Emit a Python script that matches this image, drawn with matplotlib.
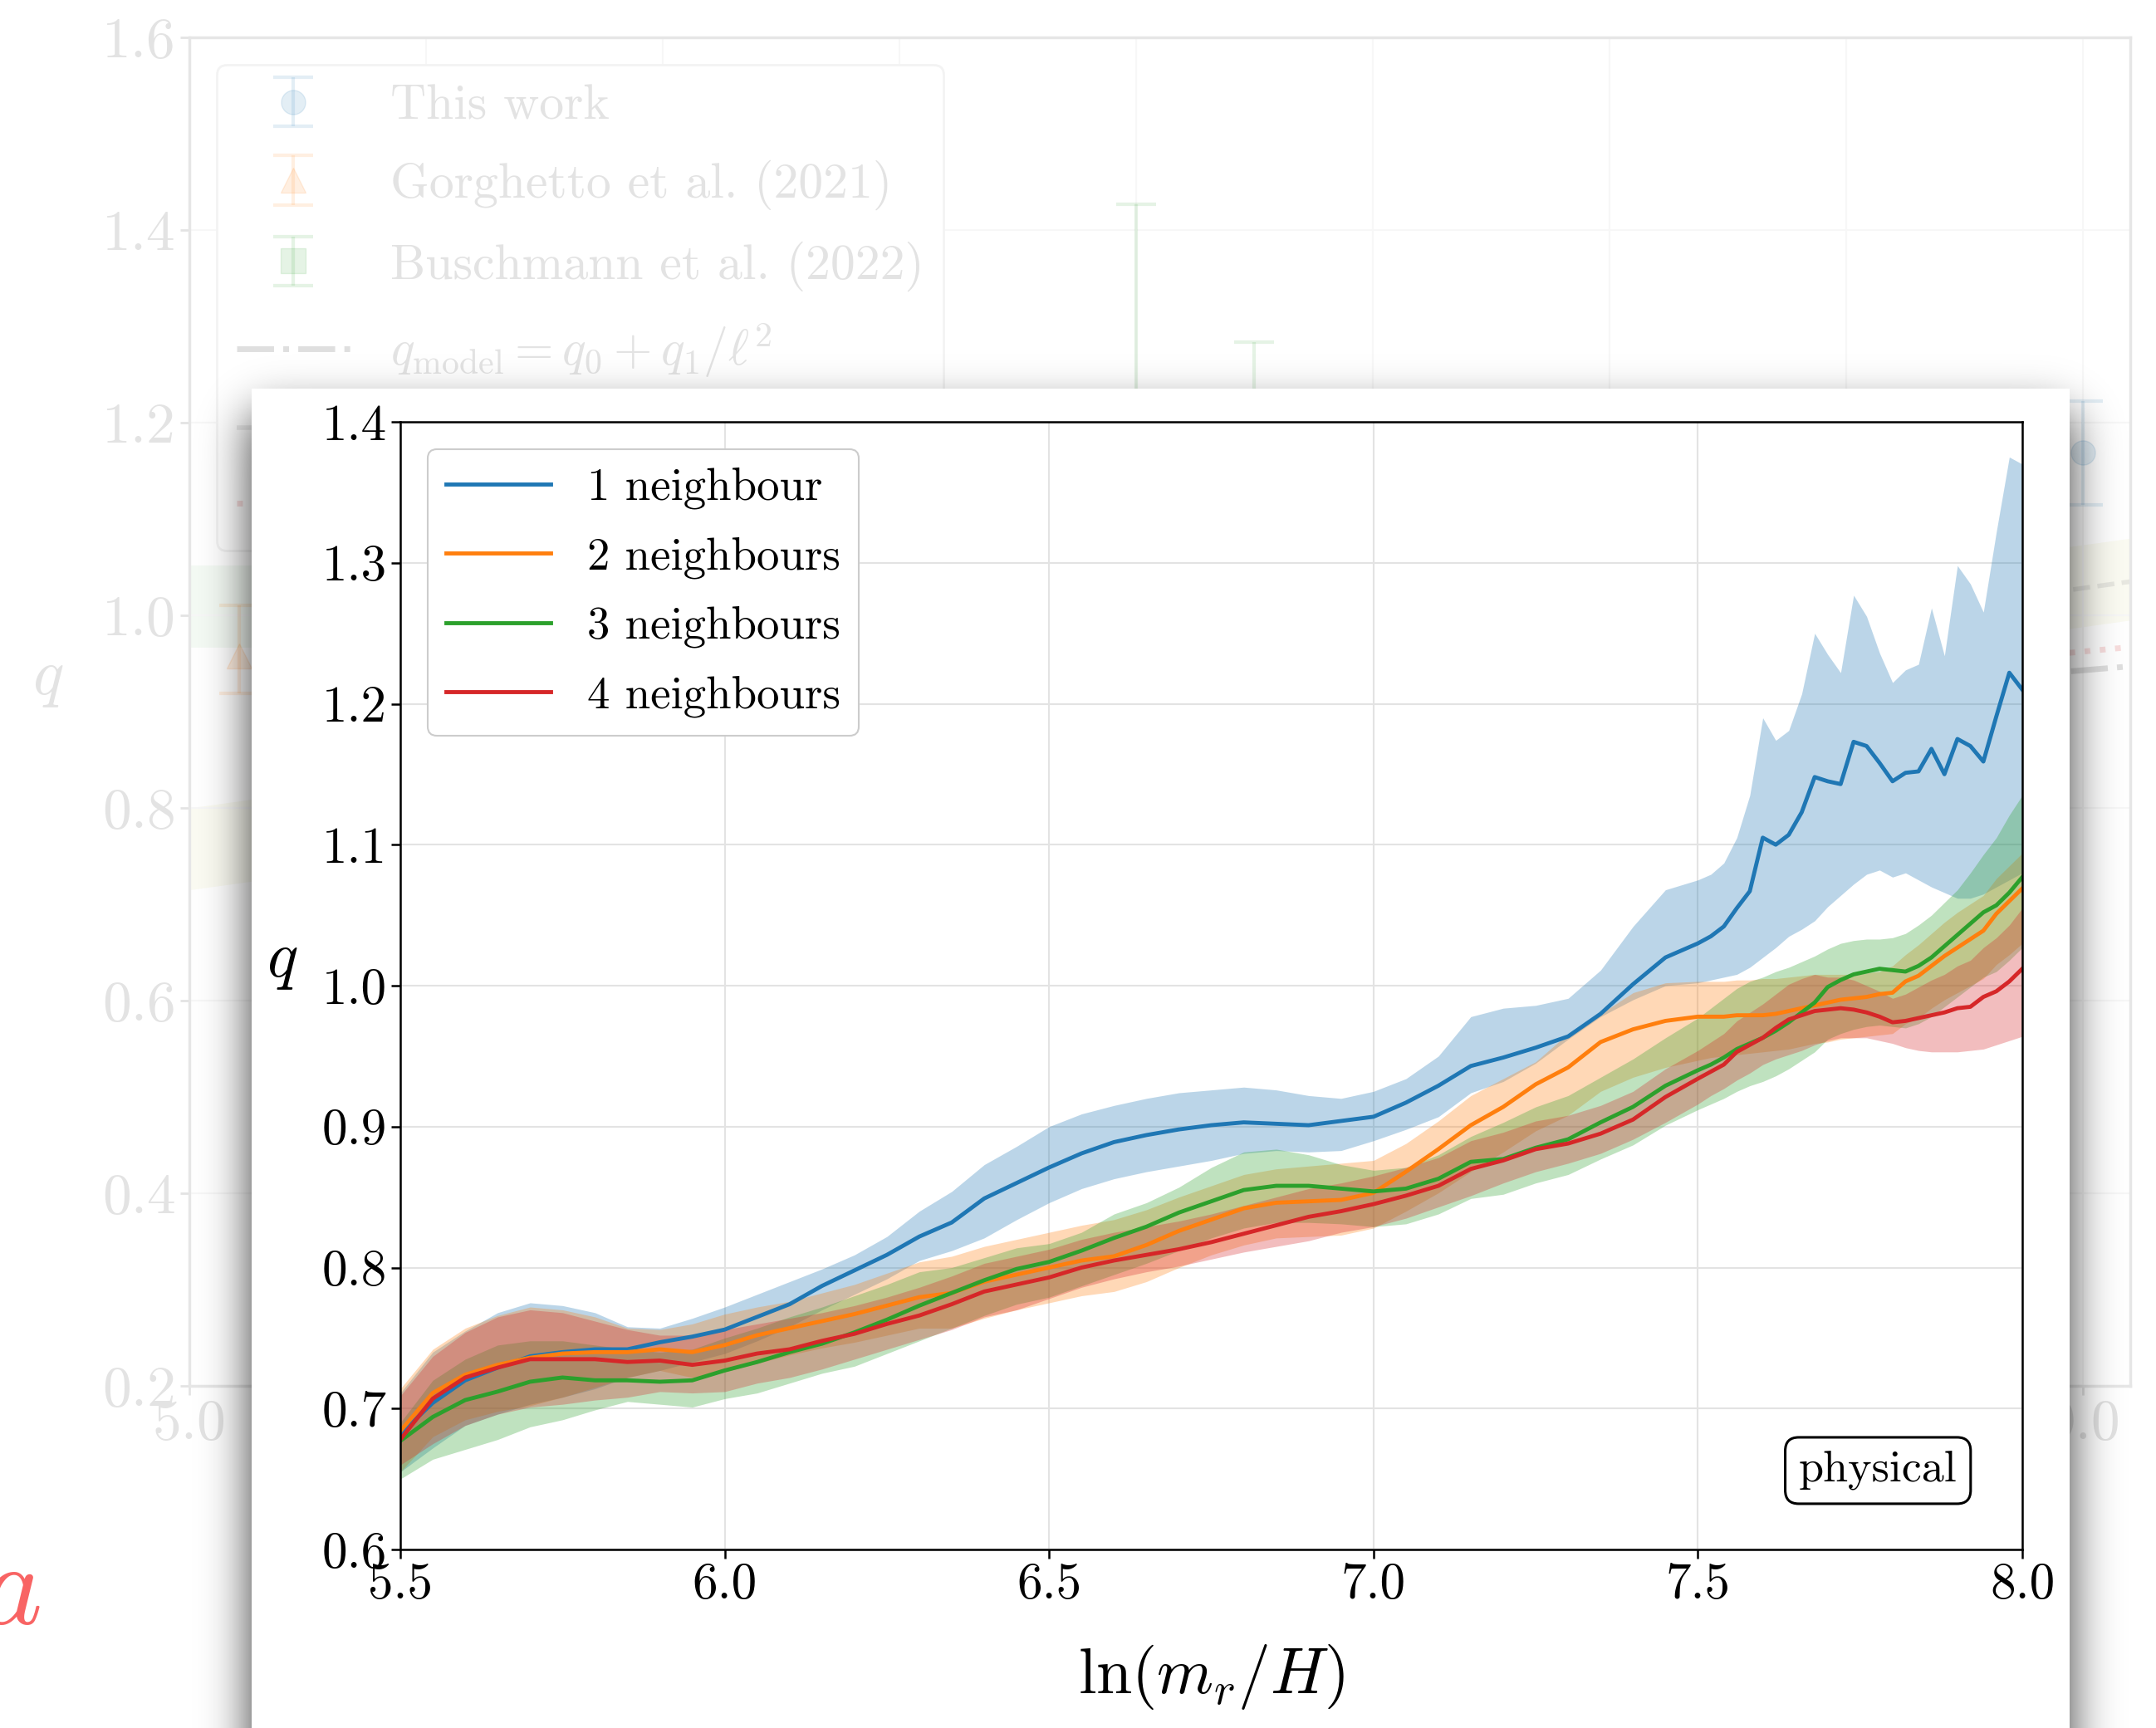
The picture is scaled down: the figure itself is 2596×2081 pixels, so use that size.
import math
import numpy as np
import matplotlib
matplotlib.use("Agg")
import matplotlib.pyplot as plt
from matplotlib.patches import Rectangle

plt.rcParams['font.family'] = 'serif'
plt.rcParams['font.serif'] = ['cmr10']
plt.rcParams['mathtext.fontset'] = 'cm'
plt.rcParams['axes.formatter.use_mathtext'] = True

# ---- inset: q vs ln(m_r/H) for 1-4 neighbours (mean + band)
ln_mr_H = np.concatenate([np.round(np.arange(5.50, 7.5001, 0.05), 2),
                          np.round(np.arange(7.52, 8.0001, 0.02), 2)])

q1 = [0.682, 0.704, 0.720, 0.729, 0.737, 0.740, 0.742, 0.742, 0.747, 0.751,
      0.756, 0.765, 0.774, 0.787, 0.798, 0.809, 0.822, 0.832, 0.849, 0.860,
      0.871, 0.881, 0.889, 0.894, 0.898, 0.901, 0.903, 0.902, 0.901, 0.904,
      0.907, 0.917, 0.929, 0.943, 0.949, 0.956, 0.964, 0.980, 1.001, 1.020,
      1.030, 1.035, 1.042, 1.055, 1.067, 1.105, 1.100, 1.107, 1.123, 1.148,
      1.145, 1.143, 1.173, 1.170, 1.158, 1.145, 1.151, 1.152, 1.168, 1.150,
      1.175, 1.170, 1.159, 1.191, 1.222, 1.210]
q1_hi = [0.711, 0.740, 0.755, 0.768, 0.775, 0.773, 0.768, 0.758, 0.757, 0.764,
         0.772, 0.781, 0.790, 0.799, 0.809, 0.822, 0.840, 0.854, 0.873, 0.886,
         0.900, 0.909, 0.915, 0.920, 0.924, 0.926, 0.928, 0.926, 0.922, 0.920,
         0.925, 0.934, 0.950, 0.978, 0.984, 0.986, 0.991, 1.011, 1.042, 1.068,
         1.075, 1.079, 1.087, 1.105, 1.135, 1.190, 1.174, 1.181, 1.207, 1.250,
         1.235, 1.222, 1.277, 1.262, 1.236, 1.215, 1.224, 1.228, 1.268, 1.234,
         1.298, 1.285, 1.265, 1.322, 1.375, 1.370]
q1_lo = [0.655, 0.672, 0.688, 0.696, 0.703, 0.708, 0.714, 0.722, 0.727, 0.733,
         0.739, 0.748, 0.758, 0.770, 0.781, 0.792, 0.805, 0.812, 0.821, 0.834,
         0.846, 0.856, 0.863, 0.868, 0.872, 0.876, 0.881, 0.883, 0.882, 0.883,
         0.890, 0.898, 0.907, 0.924, 0.932, 0.945, 0.962, 0.978, 0.990, 1.000,
         1.002, 1.004, 1.006, 1.008, 1.013, 1.020, 1.027, 1.035, 1.040, 1.046,
         1.056, 1.064, 1.072, 1.079, 1.082, 1.077, 1.080, 1.075, 1.070, 1.066,
         1.062, 1.062, 1.065, 1.070, 1.075, 1.080]

q2 = [0.684, 0.711, 0.724, 0.731, 0.736, 0.739, 0.740, 0.740, 0.742, 0.740,
      0.745, 0.752, 0.757, 0.762, 0.767, 0.773, 0.779, 0.782, 0.790, 0.795,
      0.800, 0.805, 0.808, 0.816, 0.826, 0.834, 0.842, 0.846, 0.847, 0.848,
      0.853, 0.868, 0.884, 0.901, 0.914, 0.930, 0.942, 0.960, 0.969, 0.975,
      0.978, 0.978, 0.978, 0.979, 0.979, 0.979, 0.980, 0.982, 0.984, 0.986,
      0.988, 0.990, 0.991, 0.992, 0.994, 0.995, 1.003, 1.007, 1.014, 1.021,
      1.027, 1.033, 1.039, 1.051, 1.060, 1.069]
q2_hi = [0.714, 0.742, 0.757, 0.766, 0.772, 0.770, 0.765, 0.757, 0.756, 0.760,
         0.767, 0.772, 0.776, 0.782, 0.788, 0.796, 0.804, 0.808, 0.815, 0.820,
         0.825, 0.830, 0.834, 0.841, 0.850, 0.858, 0.866, 0.870, 0.872, 0.874,
         0.876, 0.888, 0.904, 0.922, 0.934, 0.946, 0.966, 0.980, 0.995, 1.002,
         1.003, 1.003, 1.003, 1.004, 1.004, 1.005, 1.005, 1.006, 1.007, 1.008,
         1.008, 1.008, 1.008, 1.009, 1.010, 1.014, 1.022, 1.029, 1.037, 1.045,
         1.052, 1.058, 1.064, 1.076, 1.085, 1.094]
q2_lo = [0.655, 0.680, 0.692, 0.698, 0.702, 0.708, 0.715, 0.722, 0.727, 0.722,
         0.726, 0.732, 0.738, 0.743, 0.747, 0.752, 0.757, 0.757, 0.764, 0.770,
         0.775, 0.780, 0.783, 0.790, 0.800, 0.809, 0.816, 0.821, 0.822, 0.823,
         0.828, 0.840, 0.853, 0.868, 0.882, 0.897, 0.908, 0.925, 0.935, 0.942,
         0.947, 0.949, 0.950, 0.951, 0.952, 0.953, 0.954, 0.955, 0.957, 0.959,
         0.960, 0.962, 0.963, 0.964, 0.965, 0.966, 0.973, 0.977, 0.984, 0.990,
         0.995, 1.000, 1.005, 1.015, 1.022, 1.030]

q3 = [0.677, 0.694, 0.706, 0.712, 0.719, 0.722, 0.720, 0.720, 0.719, 0.720,
      0.727, 0.733, 0.740, 0.746, 0.754, 0.763, 0.773, 0.782, 0.791, 0.799,
      0.804, 0.812, 0.821, 0.829, 0.839, 0.847, 0.855, 0.858, 0.858, 0.856,
      0.854, 0.856, 0.863, 0.875, 0.877, 0.885, 0.891, 0.903, 0.914, 0.929,
      0.940, 0.944, 0.949, 0.955, 0.959, 0.963, 0.968, 0.974, 0.981, 0.988,
      0.999, 1.004, 1.008, 1.010, 1.012, 1.011, 1.010, 1.014, 1.020, 1.028,
      1.036, 1.044, 1.052, 1.057, 1.066, 1.077]
q3_hi = [0.690, 0.720, 0.735, 0.745, 0.748, 0.748, 0.745, 0.742, 0.740, 0.742,
         0.750, 0.757, 0.765, 0.772, 0.780, 0.788, 0.797, 0.800, 0.807, 0.814,
         0.817, 0.825, 0.838, 0.846, 0.857, 0.871, 0.882, 0.884, 0.880, 0.873,
         0.869, 0.871, 0.880, 0.893, 0.903, 0.914, 0.922, 0.935, 0.948, 0.963,
         0.977, 0.984, 0.991, 0.998, 1.003, 1.006, 1.010, 1.013, 1.017, 1.021,
         1.026, 1.030, 1.032, 1.033, 1.033, 1.034, 1.037, 1.043, 1.050, 1.059,
         1.068, 1.080, 1.093, 1.105, 1.121, 1.135]
q3_lo = [0.650, 0.664, 0.671, 0.678, 0.687, 0.692, 0.699, 0.705, 0.703, 0.701,
         0.707, 0.711, 0.718, 0.725, 0.730, 0.739, 0.748, 0.757, 0.766, 0.774,
         0.779, 0.787, 0.795, 0.803, 0.812, 0.821, 0.828, 0.832, 0.832, 0.831,
         0.829, 0.831, 0.838, 0.849, 0.852, 0.860, 0.866, 0.877, 0.887, 0.901,
         0.912, 0.916, 0.920, 0.925, 0.929, 0.932, 0.936, 0.941, 0.947, 0.953,
         0.962, 0.966, 0.969, 0.971, 0.972, 0.971, 0.970, 0.973, 0.978, 0.985,
         0.992, 0.999, 1.006, 1.010, 1.018, 1.027]

q4 = [0.678, 0.707, 0.722, 0.729, 0.735, 0.735, 0.735, 0.733, 0.734, 0.731,
      0.734, 0.739, 0.742, 0.748, 0.753, 0.760, 0.766, 0.774, 0.783, 0.788,
      0.793, 0.800, 0.805, 0.809, 0.813, 0.818, 0.824, 0.830, 0.836, 0.840,
      0.845, 0.851, 0.858, 0.870, 0.876, 0.884, 0.888, 0.895, 0.905, 0.921,
      0.934, 0.939, 0.944, 0.953, 0.958, 0.963, 0.970, 0.976, 0.979, 0.982,
      0.983, 0.984, 0.983, 0.981, 0.978, 0.974, 0.975, 0.977, 0.979, 0.981,
      0.984, 0.985, 0.992, 0.996, 1.003, 1.012]
q4_hi = [0.709, 0.737, 0.754, 0.765, 0.770, 0.768, 0.762, 0.756, 0.752, 0.752,
         0.756, 0.760, 0.764, 0.768, 0.773, 0.779, 0.786, 0.794, 0.803, 0.808,
         0.813, 0.820, 0.825, 0.829, 0.833, 0.838, 0.844, 0.850, 0.856, 0.860,
         0.865, 0.871, 0.878, 0.890, 0.896, 0.904, 0.908, 0.915, 0.925, 0.941,
         0.954, 0.960, 0.966, 0.975, 0.981, 0.987, 0.994, 1.001, 1.005, 1.008,
         1.006, 1.006, 1.004, 1.000, 0.996, 0.991, 0.994, 0.999, 1.004, 1.008,
         1.014, 1.018, 1.027, 1.034, 1.043, 1.055]
q4_lo = [0.660, 0.675, 0.688, 0.696, 0.701, 0.703, 0.706, 0.708, 0.712, 0.711,
         0.712, 0.718, 0.722, 0.728, 0.735, 0.742, 0.749, 0.756, 0.765, 0.770,
         0.778, 0.786, 0.792, 0.797, 0.801, 0.806, 0.811, 0.815, 0.819, 0.825,
         0.829, 0.835, 0.843, 0.851, 0.860, 0.868, 0.874, 0.881, 0.891, 0.903,
         0.916, 0.922, 0.927, 0.933, 0.938, 0.944, 0.948, 0.951, 0.954, 0.958,
         0.961, 0.963, 0.963, 0.963, 0.961, 0.959, 0.956, 0.954, 0.953, 0.953,
         0.953, 0.954, 0.955, 0.958, 0.961, 0.964]

labels = ['1 neighbour', '2 neighbours', '3 neighbours', '4 neighbours']
colors = ['tab:blue', 'tab:orange', 'tab:green', 'tab:red']

# ---- faded background figure (comparison plot)
this_x, this_q, this_err = [9.0], [1.169], [[0.054], [0.053]]
gorg_x, gorg_q, gorg_err = [5.105, 5.20], [0.958, 0.865], [[0.039, 0.020], [0.052, 0.020]]
busch_x, busch_q, busch_err = [7.0, 7.25], [1.15, 1.08], [0.277, 0.204]
model_x, model_q = [5.5, 9.1], [0.800, 0.947]
dash_x, dash_q = [5.5, 9.1], [0.790, 1.035]
dot_x, dot_q = [5.5, 9.1], [0.800, 0.967]
yband_x, yband_lo, yband_hi = [5.0, 9.1], [0.715, 0.995], [0.800, 1.080]
gband_x, gband_lo, gband_hi = [5.0, 6.0], [0.966, 0.966], [1.052, 1.052]

W, H = 2596, 2081
fig = plt.figure(figsize=(W / 100, H / 100), dpi=100)

fade = '#e3e3e3'
bg = fig.add_axes([228 / W, 1 - 1669 / H, (2565 - 228) / W, (1669 - 45) / H])
bg.set_zorder(0)
bg.fill_between(yband_x, yband_lo, yband_hi, color='tab:olive', alpha=0.06, lw=0)
bg.fill_between(gband_x, gband_lo, gband_hi, color='tab:green', alpha=0.05, lw=0)
bg.errorbar(this_x, this_q, yerr=this_err, fmt='o', color='tab:blue', ms=21,
            capsize=17, elinewidth=3, capthick=3, alpha=0.12, label='This work')
bg.errorbar(gorg_x, gorg_q, yerr=gorg_err, fmt='^', color='tab:orange', ms=21,
            capsize=17, elinewidth=3, capthick=3, alpha=0.12, label='Gorghetto et al. (2021)')
bg.errorbar(busch_x, busch_q, yerr=busch_err, fmt='s', color='tab:green', ms=21,
            capsize=17, elinewidth=3, capthick=3, alpha=0.12, label='Buschmann et al. (2022)')
bg.plot(model_x, model_q, '-.', color='0.5', lw=5, alpha=0.25,
        label=r'$q_{\rm model} = q_0 + q_1/\ell^2$')
bg.plot(dash_x, dash_q, '--', color='0.5', lw=4, alpha=0.15, label=' ')
bg.plot(dot_x, dot_q, ':', color='tab:red', lw=5, alpha=0.15, label=' ')
bg.set_xlim(5.0, 9.1)
bg.set_ylim(0.2, 1.6)
bg.set_xticks(np.arange(5.0, 9.01, 0.5))
bg.set_yticks(np.arange(0.2, 1.61, 0.2))
bg.xaxis.set_major_formatter(matplotlib.ticker.FormatStrFormatter('%.1f'))
bg.yaxis.set_major_formatter(matplotlib.ticker.FormatStrFormatter('%.1f'))
bg.tick_params(labelsize=50, colors=fade, length=8, width=2)
bg.grid(color='#f7f7f7', lw=1.5)
for s in bg.spines.values():
    s.set_color('#e6e6e6')
    s.set_linewidth(2.5)
bg.set_ylabel('$q$', fontsize=56, color=fade, rotation=0, ha='center', va='center')
bg.yaxis.set_label_coords(-0.073, 0.523)
h, l = bg.get_legend_handles_labels()
order = [3, 4, 5, 0, 1, 2]
leg_bg = bg.legend([h[i] for i in order], [l[i] for i in order], loc='upper left',
                   fontsize=43, labelcolor=fade, borderaxespad=0.55,
                   handlelength=2.3, labelspacing=0.62, framealpha=1.0)
leg_bg.get_frame().set_edgecolor('#f3f3f3')
leg_bg.get_frame().set_linewidth(2)

# ---- shadow and white panel behind the inset
sh = fig.add_axes([0, 0, 1, 1])
sh.set_zorder(1)
sh.axis('off')
sh.set_xlim(0, 1)
sh.set_ylim(0, 1)
erf = np.vectorize(math.erf)
px0, px1, py0, py1 = 303, 2492, 468, 2400
sig, dy = 28.0, 30.0
gx = (np.arange(W // 2) + 0.5) * 2
gy = (np.arange(H // 2) + 0.5) * 2
fx = 0.5 * (erf((gx - px0) / (math.sqrt(2) * sig)) - erf((gx - px1) / (math.sqrt(2) * sig)))
fy = 0.5 * (erf((gy - py0 - dy) / (math.sqrt(2) * sig)) - erf((gy - py1 - dy) / (math.sqrt(2) * sig)))
shade = np.zeros((H // 2, W // 2, 4), dtype=np.float32)
shade[..., 3] = 0.78 * fy[:, None] * fx[None, :]
sh.imshow(shade, extent=(0, 1, 0, 1), aspect='auto', interpolation='bilinear', zorder=1)
sh.add_patch(Rectangle((px0 / W, -0.1), (px1 - px0) / W, 1 - py0 / H + 0.1,
                       facecolor='white', edgecolor='none', zorder=2))

# ---- inset axes
ax = fig.add_axes([482 / W, 1 - 1866 / H, (2435 - 482) / W, (1866 - 508) / H])
ax.set_zorder(2)
series = [(q1, q1_lo, q1_hi), (q2, q2_lo, q2_hi), (q3, q3_lo, q3_hi), (q4, q4_lo, q4_hi)]
for (q, lo, hi), c, lab in zip(series, colors, labels):
    ax.fill_between(ln_mr_H, lo, hi, color=c, alpha=0.3, lw=0)
    ax.plot(ln_mr_H, q, color=c, lw=3.5, label=lab)
ax.set_xlim(5.5, 8.0)
ax.set_ylim(0.6, 1.4)
ax.set_xticks(np.arange(5.5, 8.01, 0.5))
ax.set_yticks(np.arange(0.6, 1.41, 0.1))
ax.xaxis.set_major_formatter(matplotlib.ticker.FormatStrFormatter('%.1f'))
ax.yaxis.set_major_formatter(matplotlib.ticker.FormatStrFormatter('%.1f'))
ax.tick_params(labelsize=44, length=8, width=1.8)
ax.grid(color='#e3e3e3', lw=1.5)
ax.set_axisbelow(True)
for s in ax.spines.values():
    s.set_linewidth(1.8)
ax.set_xlabel(r'$\ln(m_r/H)$', fontsize=56, va='center')
ax.xaxis.set_label_coords(0.5, -0.113)
ax.set_ylabel('$q$', fontsize=56, rotation=0, ha='center', va='center')
ax.yaxis.set_label_coords(-0.073, 0.52)
leg = ax.legend(loc='upper left', fontsize=39.5, handlelength=2.3, borderaxespad=0.6,
                labelspacing=0.6, framealpha=1.0)
leg.get_frame().set_linewidth(1.5)
ax.text(0.911, 0.070, 'physical', transform=ax.transAxes, fontsize=39,
        ha='center', va='center',
        bbox=dict(boxstyle='round,pad=0.3', facecolor='white', edgecolor='black', lw=2.2))

fig.text(-0.009, 0.077, '$a$', color='#f86464', fontsize=100, ha='left', va='center')

fig.savefig('out.png', dpi=100)
